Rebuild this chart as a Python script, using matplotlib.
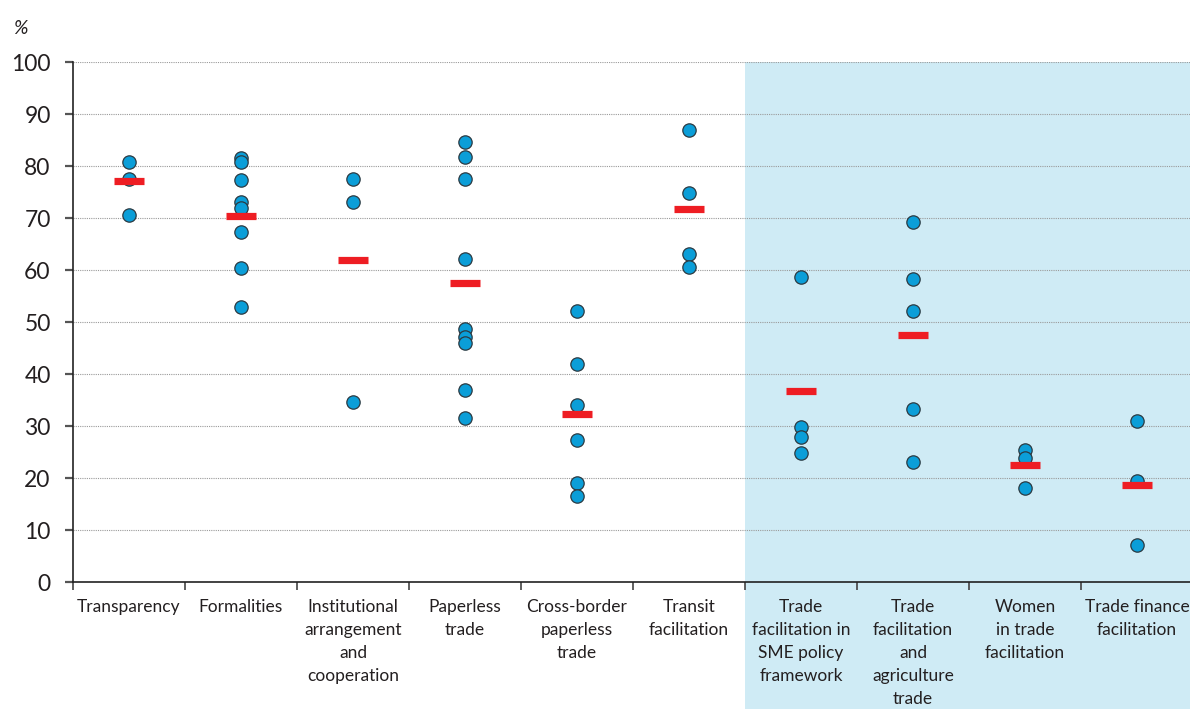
import numpy as np
import matplotlib
matplotlib.use("Agg")
import matplotlib.pyplot as plt

# Category labels (x axis)
categories = [
    "Transparency",
    "Formalities",
    "Institutional\narrangement\nand\ncooperation",
    "Paperless\ntrade",
    "Cross-border\npaperless\ntrade",
    "Transit\nfacilitation",
    "Trade\nfacilitation in\nSME policy\nframework",
    "Trade\nfacilitation\nand\nagriculture\ntrade",
    "Women\nin trade\nfacilitation",
    "Trade finance\nfacilitation",
]

# Individual scores (%) per category
scores = [
    [80.8, 77.5, 70.5],
    [81.5, 80.7, 77.4, 73.1, 71.9, 67.4, 60.4, 52.9],
    [77.5, 73.1, 34.7],
    [84.7, 81.8, 77.5, 62.2, 48.6, 47.2, 46.0, 36.9, 31.5],
    [52.2, 41.9, 34.0, 27.4, 19.0, 16.5],
    [86.9, 74.9, 63.0, 60.6],
    [58.6, 29.9, 27.9, 24.9],
    [69.2, 58.3, 52.1, 33.3, 23.0],
    [25.4, 23.9, 18.1],
    [31.0, 19.5, 7.2],
]

# Average per category (red bars)
averages = [77.1, 70.3, 61.9, 57.6, 32.4, 71.7, 36.7, 47.6, 22.6, 18.6]

# first category of the shaded (new) group
SHADE_START = 6

BLUE = "#0B9ED8"
RED = "#EE1D23"
SHADE = "#CFEBF5"
TEXT = "#231F20"

plt.rcParams['font.family'] = ['Lato', 'DejaVu Sans']

fig = plt.figure(figsize=(11.9, 7.09), dpi=100)
ax = fig.add_axes([0.0613, 0.179, 0.9412, 0.7335])

x = np.arange(len(categories))

# shaded background for the last group, reaching down past the labels
ax.axvspan(SHADE_START - 0.5, len(categories) - 0.5, ymin=-0.3, ymax=1,
           color=SHADE, zorder=0, clip_on=False, lw=0)

for i, vals in enumerate(scores):
    ax.plot([x[i]] * len(vals), vals, 'o', color=BLUE, markersize=9.6,
            markeredgecolor="#2B3A42", markeredgewidth=0.9, zorder=3)

ax.hlines(averages, x - 0.13, x + 0.13, colors=RED, linewidth=5.2,
          zorder=4, capstyle='butt')

ax.set_xlim(-0.5, len(categories) - 0.5)
ax.set_ylim(0, 100)
ax.set_yticks(np.arange(0, 101, 10))
ax.grid(axis='y', linestyle=(0, (1, 1)), color='#9A9A9A', linewidth=0.8, zorder=1)
ax.set_axisbelow(True)

# category boundaries as ticks, labels at centres
ax.set_xticks(np.arange(-0.5, len(categories), 1.0))
ax.set_xticklabels([])
ax.set_xticks(x, minor=True)
ax.set_xticklabels(categories, minor=True, fontsize=12.5, color=TEXT,
                   linespacing=1.55, va='top')
ax.tick_params(axis='x', which='minor', length=0, pad=12)
ax.tick_params(axis='x', which='major', length=6, width=1.2, color='#444444')
ax.tick_params(axis='y', length=6, width=1.6, color='#555555', pad=10,
               labelsize=16.5, labelcolor=TEXT)

for s in ['top', 'right']:
    ax.spines[s].set_visible(False)
ax.spines['left'].set_linewidth(1.2)
ax.spines['bottom'].set_linewidth(1.2)
ax.spines['left'].set_color('#222222')
ax.spines['bottom'].set_color('#222222')

fig.text(0.011, 0.96, "%", fontsize=14, color=TEXT, style='italic',
         ha='left', va='center')

fig.savefig("out.png", dpi=100)
